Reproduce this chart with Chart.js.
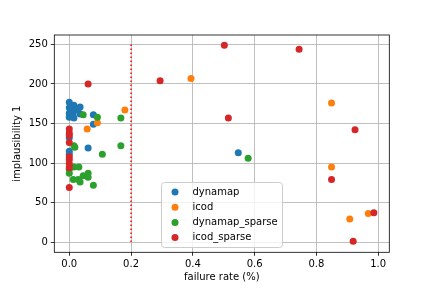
<!DOCTYPE html>
<html>
<head>
<meta charset="utf-8">
<script src="https://cdn.jsdelivr.net/npm/chart.js@4"></script>
<style>
  body { margin: 0; background: #fff; }
  canvas { display: block; }
</style>
</head>
<body>
<canvas id="chart" width="432" height="288"></canvas>
<script>
// values
const seriesNames = ['dynamap', 'icod', 'dynamap_sparse', 'icod_sparse'];
const seriesColors = ['#1f77b4', '#ff7f0e', '#2ca02c', '#d62728'];

const dynamapX = [0, 0, 0, 0, 0.015, 0.022, 0.012, 0.028, 0.035, 0.015, 0.035, 0.005, 0.078, 0.078, 0.061, 0, 0, 0, 0.547];
const dynamapY = [177, 170, 163, 158, 173, 167, 161, 168, 171, 157, 162, 166, 161, 149, 119, 132, 115, 111, 113];

const icodX = [0.058, 0.091, 0.18, 0.394, 0.849, 0.849, 0.908, 0.968];
const icodY = [143, 151, 167, 207, 176, 95, 29, 36];

const dynSparseX = [0.015, 0.018, 0.045, 0.091, 0.167, 0.107, 0.167, 0.579, 0.015, 0.031, 0, 0, 0.013, 0.029, 0.035, 0.045, 0.061, 0.061, 0.078];
const dynSparseY = [122, 120, 161, 158, 157, 111, 122, 106, 95, 95, 92, 87, 79, 79, 76, 84, 87, 82, 72];

const icodSparseX = [0, 0, 0, 0, 0, 0, 0, 0, 0, 0.061, 0.294, 0.502, 0.515, 0.744, 0.925, 0.849, 0.986, 0.919];
const icodSparseY = [143, 138, 135, 126, 108, 104, 99, 94, 69, 200, 204, 249, 157, 244, 142, 79, 37, 1];

const thresholdX = 0.2;
const thresholdY = [0, 250];

const xTicks = [0, 0.2, 0.4, 0.6, 0.8, 1.0];
const yTicks = [0, 50, 100, 150, 200, 250];

const toPoints = (xs, ys) => xs.map((x, i) => ({x: x, y: ys[i]}));
const seriesData = [
    toPoints(dynamapX, dynamapY),
    toPoints(icodX, icodY),
    toPoints(dynSparseX, dynSparseY),
    toPoints(icodSparseX, icodSparseY)
];

Chart.defaults.font.family = 'DejaVu Sans';
Chart.defaults.font.size = 10;
Chart.defaults.color = '#000';

// matplotlib-like frame around the axes
const framePlugin = {
    id: 'frame',
    afterDatasetsDraw(chart) {
        const a = chart.chartArea;
        const ctx = chart.ctx;
        ctx.save();
        ctx.strokeStyle = '#000';
        ctx.lineWidth = 0.8;
        ctx.strokeRect(a.left, a.top, a.right - a.left, a.bottom - a.top);
        ctx.restore();
    }
};

// legend box drawn inside the plot, lower centre
const legendPlugin = {
    id: 'boxLegend',
    afterDraw(chart) {
        const ctx = chart.ctx;
        const bx = 161.5, by = 182.5, bw = 121, bh = 65, r = 3;
        ctx.save();
        ctx.beginPath();
        ctx.roundRect(bx, by, bw, bh, r);
        ctx.fillStyle = 'rgba(255,255,255,0.8)';
        ctx.fill();
        ctx.strokeStyle = '#cccccc';
        ctx.lineWidth = 1;
        ctx.stroke();
        ctx.font = '10px "DejaVu Sans"';
        ctx.textBaseline = 'middle';
        seriesNames.forEach((name, i) => {
            const y = 192 + i * 15.2;
            ctx.beginPath();
            ctx.arc(175, y, 3.5, 0, Math.PI * 2);
            ctx.fillStyle = seriesColors[i];
            ctx.fill();
            ctx.fillStyle = '#000';
            ctx.fillText(name, 192.5, y);
        });
        ctx.restore();
    }
};

const datasets = seriesNames.map((name, i) => ({
    type: 'scatter',
    label: name,
    data: seriesData[i],
    backgroundColor: seriesColors[i],
    borderWidth: 0,
    pointRadius: 3.5,
    pointHoverRadius: 3.5,
    order: 10 - i
}));

datasets.push({
    type: 'line',
    label: 'threshold',
    data: thresholdY.map(y => ({x: thresholdX, y: y})),
    borderColor: 'red',
    borderWidth: 1.5,
    borderDash: [1.5, 2.5],
    pointRadius: 0,
    fill: false,
    order: 0
});

new Chart(document.getElementById('chart'), {
    type: 'scatter',
    data: { datasets: datasets },
    options: {
        responsive: false,
        animation: false,
        devicePixelRatio: 1,
        layout: { padding: { top: 35, right: 42.7, left: 0, bottom: 0 } },
        plugins: {
            legend: { display: false },
            tooltip: { enabled: false }
        },
        scales: {
            x: {
                type: 'linear',
                min: -0.0485,
                max: 1.036,
                afterFit(scale) { scale.height = 35.7; },
                afterBuildTicks(scale) { scale.ticks = xTicks.map(v => ({value: v})); },
                grid: { color: '#b0b0b0', lineWidth: 0.8, tickColor: '#000', tickLength: 3.5 },
                border: { display: false },
                ticks: { padding: 3, callback: v => v.toFixed(1), maxRotation: 0 },
                title: { display: true, text: 'failure rate (%)', padding: { top: 5, bottom: 5 } }
            },
            y: {
                type: 'linear',
                min: -13,
                max: 262,
                afterFit(scale) { scale.width = 54.3; },
                afterBuildTicks(scale) { scale.ticks = yTicks.map(v => ({value: v})); },
                grid: { color: '#b0b0b0', lineWidth: 0.8, tickColor: '#000', tickLength: 3.5 },
                border: { display: false },
                ticks: { padding: 3 },
                title: { display: true, text: 'implausibility 1', padding: { top: 11, bottom: 11 } }
            }
        }
    },
    plugins: [framePlugin, legendPlugin]
});
</script>
</body>
</html>
